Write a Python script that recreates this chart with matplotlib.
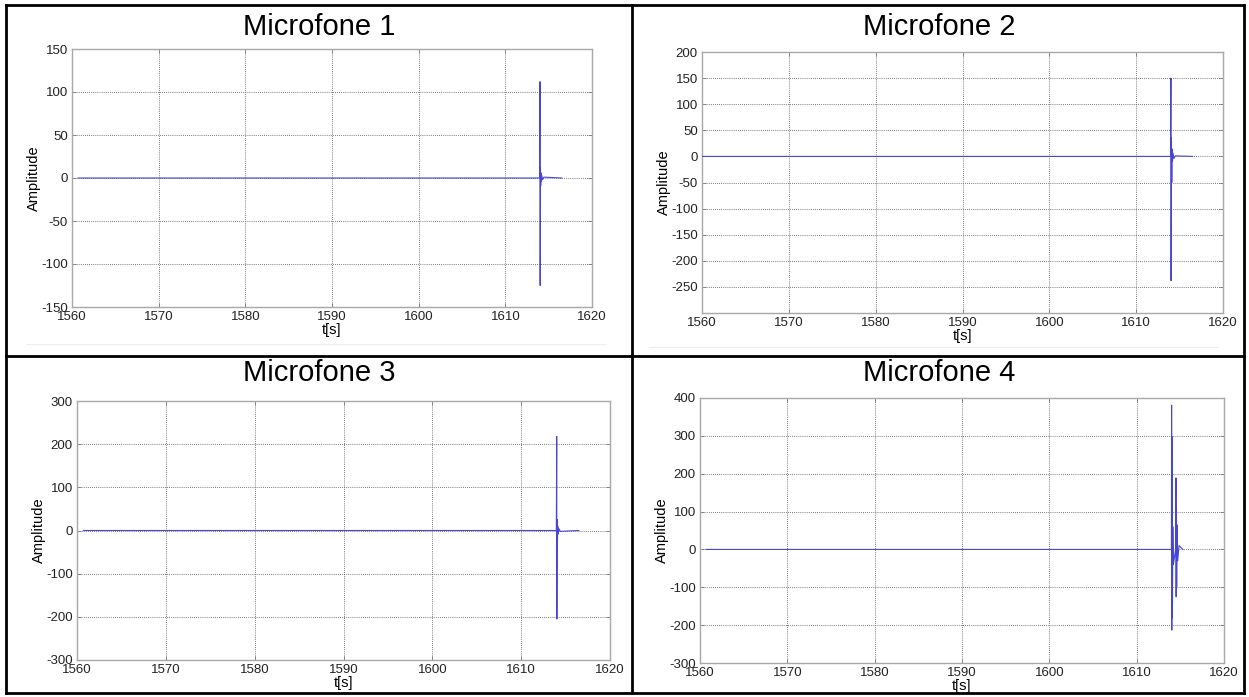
import numpy as np
import matplotlib.pyplot as plt
from matplotlib.lines import Line2D

plt.rcParams['font.family'] = ['Liberation Sans', 'DejaVu Sans']
plt.rcParams['axes.unicode_minus'] = False

W, H = 1249, 697

# ---------------- signal samples (time in s, amplitude) ----------------
mic1_t = [1560.7, 1613.96, 1614.0, 1614.02, 1614.05, 1614.08, 1614.11, 1614.15, 1614.2, 1614.3, 1614.45, 1616.5]
mic1_a = [0, 0, 112, -125, 12, -9, 6, -4, 3, -2, 1, 0]

mic2_t = [1560.0, 1613.96, 1614.0, 1614.02, 1614.06, 1614.1, 1614.14, 1614.18, 1614.25, 1614.35, 1614.5, 1616.5]
mic2_a = [0, 0, 150, -238, 36, -50, 14, -10, 6, -4, 1, 0]

mic3_t = [1560.7, 1613.96, 1614.0, 1614.02, 1614.05, 1614.08, 1614.12, 1614.17, 1614.25, 1614.4, 1616.5]
mic3_a = [0, 0, 218, -205, 25, -28, 10, -8, 4, -2, 0]

mic4_t = [1560.7, 1613.98, 1614.0, 1614.02, 1614.04, 1614.06, 1614.08, 1614.1, 1614.14, 1614.2,
          1614.46, 1614.5, 1614.52, 1614.55, 1614.58, 1614.62, 1614.7, 1614.85, 1615.3]
mic4_a = [0, 0, 381, -213, 298, -181, 190, -150, 60, -40,
          0, 189, -125, 112, -100, 65, -30, 10, 0]

titles = ['Microfone 1', 'Microfone 2', 'Microfone 3', 'Microfone 4']
x_ticks = [1560, 1570, 1580, 1590, 1600, 1610, 1620]
y_limits = [(-150, 150), (-300, 200), (-300, 300), (-300, 400)]
y_ticks = [
    [-150, -100, -50, 0, 50, 100, 150],
    [-250, -200, -150, -100, -50, 0, 50, 100, 150, 200],
    [-300, -200, -100, 0, 100, 200, 300],
    [-300, -200, -100, 0, 100, 200, 300, 400],
]
series = [(mic1_t, mic1_a), (mic2_t, mic2_a), (mic3_t, mic3_a), (mic4_t, mic4_a)]

# axes boxes in pixels: left, right, top, bottom
boxes = [(72, 592, 49, 307), (702, 1223, 52, 313), (77, 610, 401, 660), (700, 1224, 398, 663)]
title_pos = [(319, 27), (939, 27), (319, 373), (939, 373)]

fig = plt.figure(figsize=(W / 100, H / 100), dpi=100)

for i in range(4):
    l, r, t, b = boxes[i]
    ax = fig.add_axes([l / W, 1 - b / H, (r - l) / W, (b - t) / H])
    tt, aa = series[i]
    ax.plot(tt, aa, color='#4646d6', lw=0.8, zorder=3)
    ax.set_xlim(1560, 1620)
    ax.set_ylim(*y_limits[i])
    ax.set_xticks(x_ticks)
    ax.set_yticks(y_ticks[i])
    ax.grid(True, color='#555555', linestyle=(0, (1, 1.5)), lw=0.6)
    ax.tick_params(direction='in', length=3, width=0.6, color='#777777', top=True, right=True,
                   labelsize=9.5, pad=3, labelcolor='#222222')
    for s in ax.spines.values():
        s.set_color('#a8a8a8')
        s.set_linewidth(1.0)
    ax.set_xlabel('t[s]', fontsize=10.5, labelpad=0)
    ax.set_ylabel('Amplitude', fontsize=10.5, labelpad=0)
    tx, ty = title_pos[i]
    fig.text(tx / W, 1 - ty / H, titles[i], fontsize=21, ha='center', va='center')

# faint separators under the plots of the top row
fig.add_artist(Line2D([26 / W, 606 / W], [1 - 344 / H] * 2, color='#eeeeee', lw=0.8))
fig.add_artist(Line2D([650 / W, 1218 / W], [1 - 347 / H] * 2, color='#eeeeee', lw=0.8))

# table borders
lw = 2.0
for xs in (6, 632, 1244):
    fig.add_artist(Line2D([xs / W] * 2, [1 - 5 / H, 1 - 693 / H], color='black', lw=lw))
for ys in (5, 356, 693):
    fig.add_artist(Line2D([6 / W, 1244 / W], [1 - ys / H] * 2, color='black', lw=lw))

fig.savefig('out.png', dpi=100)
